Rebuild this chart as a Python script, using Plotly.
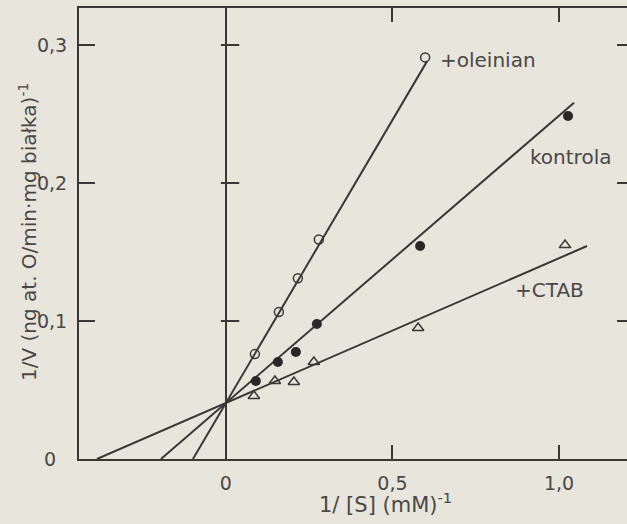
import plotly.graph_objects as go

# ---- data ----
olein_x = [0.087, 0.159, 0.216, 0.279, 0.598]
olein_y = [0.076, 0.1065, 0.131, 0.159, 0.291]
kontr_x = [0.090, 0.156, 0.210, 0.273, 0.583, 1.027]
kontr_y = [0.0565, 0.0703, 0.0775, 0.0978, 0.1543, 0.2486]
ctab_x = [0.084, 0.147, 0.204, 0.264, 0.577, 1.018]
ctab_y = [0.0457, 0.0565, 0.0558, 0.0703, 0.0949, 0.155]

# fitted lines: (x start, x end, intercept 1/V at 1/[S]=0)
olein_line_x = [-0.099, 0.604]
kontr_line_x = [-0.195, 1.045]
ctab_line_x = [-0.387, 1.084]
line_intercept = 0.0406

x_tickvals = [0, 0.5, 1.0]
x_ticktext = ["0", "0,5", "1,0"]
y_tickvals = [0.1, 0.2, 0.3]
y_ticktext = ["0,1", "0,2", "0,3"]

labels = ["+oleinian", "kontrola", "+CTAB"]
label_x = [0.637, 0.907, 0.862]
label_y = [0.289, 0.219, 0.1225]

x_title = "1/ [S] (mM)<sup>-1</sup>"
y_title = "1/V (ng at. O/min·mg białka)<sup>-1</sup>"

INK = "#3a3836"
TXT = "#4a4846"
BG = "#e8e5dd"
FONT = "DejaVu Sans"


def line_y(xs):
    x0, x1 = xs
    slope = line_intercept / (-x0)
    return [line_intercept + slope * x0, line_intercept + slope * x1]


fig = go.Figure()
for lx in (olein_line_x, kontr_line_x, ctab_line_x):
    fig.add_trace(go.Scatter(x=lx, y=line_y(lx), mode="lines",
                             line=dict(color=INK, width=2), showlegend=False,
                             hoverinfo="skip"))

fig.add_trace(go.Scatter(x=olein_x, y=olein_y, mode="markers",
                         marker=dict(symbol="circle-open", size=9, color=INK,
                                     line=dict(width=1.5, color=INK)),
                         showlegend=False))
fig.add_trace(go.Scatter(x=kontr_x, y=kontr_y, mode="markers",
                         marker=dict(symbol="circle", size=10, color="#2a2826"),
                         showlegend=False))
fig.add_trace(go.Scatter(x=ctab_x, y=ctab_y, mode="markers",
                         marker=dict(symbol="triangle-up-open", size=10, color=INK,
                                     line=dict(width=1.5, color=INK)),
                         showlegend=False))
# dummy trace for the right-side tick axis
fig.add_trace(go.Scatter(x=[0], y=[0], yaxis="y2", mode="markers",
                         marker=dict(opacity=0), showlegend=False, hoverinfo="skip"))

xr = [-0.441, 1.204]
yr = [0, 0.3268]

fig.update_layout(
    width=627, height=524,
    margin=dict(l=79, r=0, t=8, b=65),
    paper_bgcolor=BG, plot_bgcolor=BG,
    font=dict(family=FONT, color=TXT, size=19),
    xaxis=dict(range=xr, tickvals=x_tickvals, ticktext=x_ticktext,
               ticks="inside", ticklen=14, tickwidth=2, tickcolor=INK,
               showline=True, linecolor=INK, linewidth=2, mirror="ticks",
               showgrid=False, zeroline=True, zerolinecolor=INK, zerolinewidth=2,
               ticklabelstandoff=6,
               tickfont=dict(size=19, color=TXT, family=FONT)),
    yaxis=dict(range=yr, tickvals=y_tickvals, ticktext=y_ticktext,
               ticks="inside", ticklen=16, tickwidth=2, tickcolor=INK,
               showline=True, linecolor=INK, linewidth=2,
               showgrid=False, zeroline=False, ticklabelstandoff=6,
               tickfont=dict(size=19, color=TXT, family=FONT)),
    yaxis2=dict(range=yr, overlaying="y", side="right", tickvals=y_tickvals,
                ticks="inside", ticklen=10, tickwidth=2, tickcolor=INK,
                showticklabels=False, showline=False, showgrid=False,
                zeroline=False),
)

# short ticks crossing the 1/[S]=0 line
for yv in y_tickvals:
    fig.add_shape(type="line", xref="x", yref="y", x0=-0.015, x1=0.04,
                  y0=yv, y1=yv, line=dict(color=INK, width=2))

# y "0" label (left-aligned in the reference)
fig.add_annotation(text="0", xref="paper", yref="y", x=-37 / 548, y=0,
                   xanchor="left", yanchor="middle", showarrow=False,
                   font=dict(size=19, color=TXT, family=FONT))

# axis titles
fig.add_annotation(text=x_title, xref="paper", yref="paper",
                   x=(385 - 79) / 548, y=(459 - 503) / 451,
                   xanchor="center", yanchor="middle", showarrow=False,
                   font=dict(size=21, color=TXT, family=FONT))
fig.add_annotation(text=y_title, xref="paper", yref="paper",
                   x=(28 - 79) / 548, y=(459 - 232) / 451, textangle=-90,
                   xanchor="center", yanchor="middle", showarrow=False,
                   font=dict(size=20, color=TXT, family=FONT))

for t, lx, ly in zip(labels, label_x, label_y):
    fig.add_annotation(text=t, x=lx, y=ly, xanchor="left", yanchor="middle",
                       showarrow=False, font=dict(size=20, color=TXT, family=FONT))

fig.write_html("out.html")
